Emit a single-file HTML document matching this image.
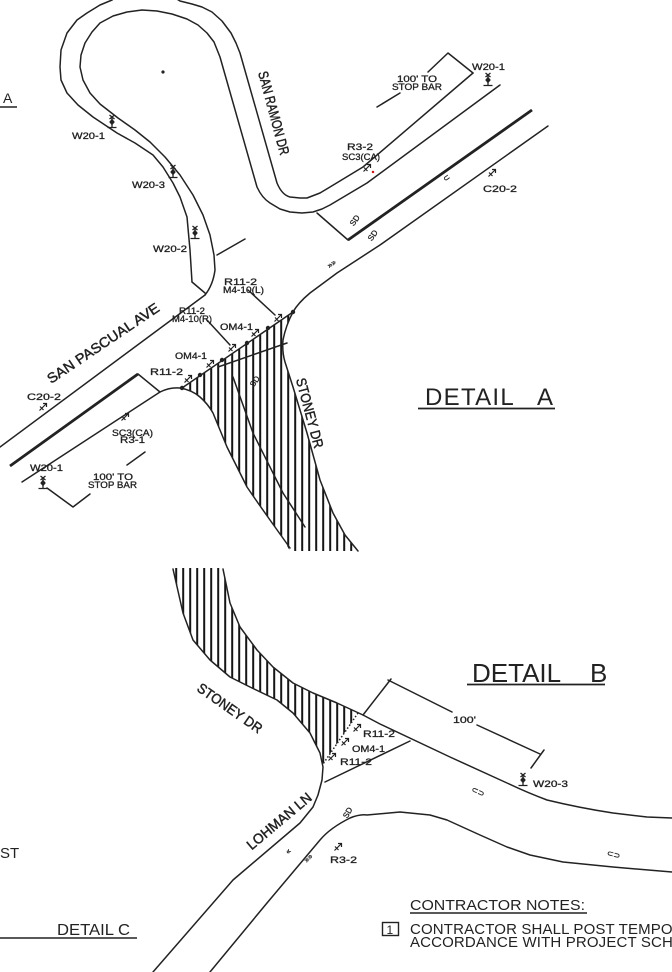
<!DOCTYPE html>
<html>
<head>
<meta charset="utf-8">
<style>
html,body{margin:0;padding:0;background:#fff;}
svg{display:block;}
.l{fill:none;stroke:#222;stroke-width:1.5;stroke-linejoin:round;stroke-linecap:round;}
.t{font-family:"Liberation Sans",sans-serif;fill:#222;}
.s{font-size:9.5px;stroke:#222;stroke-width:0.3;}
.n{font-size:14px;stroke:#222;stroke-width:0.45;}
</style>
</head>
<body>
<svg width="672" height="972" viewBox="0 0 672 972" xmlns="http://www.w3.org/2000/svg">
<defs>
<pattern id="h" width="7" height="10" patternUnits="userSpaceOnUse">
<line x1="1.2" y1="0" x2="1.2" y2="10" stroke="#151515" stroke-width="2"/>
</pattern>
<g id="ws">
<path d="M-2.5,-7 L2.5,-3 M2.5,-7 L-2.5,-3 M0,-5 L0,5 M-4.5,5.5 L4.5,5.5" stroke="#222" stroke-width="1.3" fill="none"/>
<path d="M0,-3.4 L2.8,0 L0,3.4 L-2.8,0Z" fill="#222"/>
</g>
<g id="rs">
<path d="M-3.5,3.5 L3,-3 M0,-3.5 L3.5,-3.5 L3.5,0 M-3,-0.5 L0.5,3" stroke="#222" stroke-width="1.2" fill="none"/>
</g>
</defs>
<rect width="672" height="972" fill="#fff"/>

<!-- ============ DETAIL A ============ -->
<path d="M182,388 L293,312 Q286,325 283,340 Q282,352 285,362 L293,387 L300,410 L307,433 L320,480 L333,513 L345,535 L358,551 L290,551 L280,534 L270,520 L258,503 L247,487 L237,467 L227,447 L220,430 L213,413 Q208,404 200,397 Q192,390 182,388 Z" fill="url(#h)"/>

<path class="l" d="M192,282 L190,250 L187,217 L180,197 L173,183 L163,167 L153,155 L135,143 L117,133 L93,117 L78,105 L67,93 L61,80 L60,67 L61,50 L67,33 L77,20 L87,13 L100,5 L112,0 L118,-4 M172,-4 L180,1 L192,4 L202,7 L212,12 L222,21 L231,33 L236,43 L240,53 L277,183 Q282,195 290,197 L300,198 L307,198 L320,193 L330,187 L363,167 L473,73"/>
<path class="l" d="M205,295 Q213,285 215,270 L214,255 L210,235 L203,215 L193,195 L180,175 L165,157 L150,142 L135,130 L118,118 L100,104 L90,93 L83,80 L80,67 L81,55 L85,43 L92,32 L100,23 L113,16 L127,12 L142,10 L157,11 L172,14 L187,19 L198,25 L207,33 L214,42 L220,57 L257,187 Q262,198 270,203 L280,209 L290,212 L302,213 L313,212 L322,209 L330,205 L367,183 L500,85"/>
<path class="l" d="M192,282 L205,293"/>
<path class="l" d="M217,255 L245,239"/>
<circle cx="163" cy="72" r="1.6" fill="#222"/>

<path class="l" d="M0,447 L205,295"/>
<path d="M10,466 L138,374" stroke="#222" stroke-width="2.8" fill="none"/>
<path class="l" d="M138,374 L160,392"/>
<path class="l" d="M22,482 L160,392 Q170,387 180,388 Q192,390 200,397 Q208,404 213,413 L220,430 L227,447 L237,467 L247,487 L258,503 L270,520 L280,534 L290,548"/>

<path class="l" d="M548,126 L380,245 L337,273 Q318,287 310,293 Q298,303 293,312 Q286,325 283,340 Q282,352 285,362 L293,387 L300,410 L307,433 L320,480 L333,513 L345,535 L358,551"/>
<path class="l" d="M317,213 L348,240"/>
<path d="M348,240 L532,110" stroke="#222" stroke-width="2.8" fill="none"/>

<path class="l" d="M182,388 L293,312" stroke-width="1.1"/>
<g fill="#222">
<circle cx="182" cy="388" r="2.2"/><circle cx="200" cy="375" r="2.2"/><circle cx="222" cy="360" r="2.2"/>
<circle cx="247" cy="343" r="2.2"/><circle cx="268" cy="328" r="2.2"/><circle cx="293" cy="312" r="2.2"/>
</g>
<use href="#rs" x="188" y="379"/><use href="#rs" x="210" y="364"/><use href="#rs" x="232" y="348"/>
<use href="#rs" x="255" y="333"/><use href="#rs" x="278" y="318"/>
<path class="l" d="M218,367 L287,343" stroke-width="1.1"/>
<path class="l" d="M233,377 L253,433 L283,493 L305,527" stroke-width="1.2"/>

<path class="l" d="M248,290 L275,315"/>
<path class="l" d="M207,320 L230,345"/>

<path class="l" d="M377,107 L400,93 M428,72 L448,53 L473,73"/>
<path class="l" d="M47,488 L73,507 L90,494 M127,465 L145,452"/>

<use href="#ws" x="112" y="122"/><use href="#ws" x="173" y="172"/><use href="#ws" x="195" y="233"/>
<use href="#ws" x="488" y="80"/><use href="#ws" x="43" y="483"/>
<use href="#rs" x="367" y="168"/><use href="#rs" x="492" y="173"/><use href="#rs" x="43" y="407"/><use href="#rs" x="125" y="417"/>
<circle cx="373" cy="172" r="1.2" fill="#e00"/>

<g class="t" font-size="8" stroke="#222" stroke-width="0.3">
<text transform="translate(357,222) rotate(-55)" text-anchor="middle">SD</text>
<text transform="translate(375,237) rotate(-55)" text-anchor="middle">SD</text>
<text transform="translate(448,180) rotate(-35)" text-anchor="middle">⊂</text>
<text transform="translate(333,266) rotate(-35)" text-anchor="middle">»»</text>
<text transform="translate(257,383) rotate(-55)" text-anchor="middle">SD</text>
</g>

<g class="t s">
<text x="472" y="70" textLength="33" lengthAdjust="spacingAndGlyphs">W20-1</text>
<text x="397" y="82" textLength="40" lengthAdjust="spacingAndGlyphs">100'  TO</text>
<text x="392" y="90" textLength="50" lengthAdjust="spacingAndGlyphs">STOP  BAR</text>
<text x="347" y="150" textLength="26" lengthAdjust="spacingAndGlyphs">R3-2</text>
<text x="342" y="160" textLength="38" lengthAdjust="spacingAndGlyphs">SC3(CA)</text>
<text x="483" y="192" textLength="34" lengthAdjust="spacingAndGlyphs">C20-2</text>
<text x="72" y="139" textLength="33" lengthAdjust="spacingAndGlyphs">W20-1</text>
<text x="132" y="188" textLength="33" lengthAdjust="spacingAndGlyphs">W20-3</text>
<text x="153" y="252" textLength="34" lengthAdjust="spacingAndGlyphs">W20-2</text>
<text x="224" y="285" textLength="33" lengthAdjust="spacingAndGlyphs">R11-2</text>
<text x="223" y="293" textLength="41" lengthAdjust="spacingAndGlyphs">M4-10(L)</text>
<text x="179" y="314" textLength="26" lengthAdjust="spacingAndGlyphs">R11-2</text>
<text x="172" y="322" textLength="40" lengthAdjust="spacingAndGlyphs">M4-10(R)</text>
<text x="220" y="330" textLength="33" lengthAdjust="spacingAndGlyphs">OM4-1</text>
<text x="175" y="359" textLength="32" lengthAdjust="spacingAndGlyphs">OM4-1</text>
<text x="150" y="375" textLength="33" lengthAdjust="spacingAndGlyphs">R11-2</text>
<text x="27" y="400" textLength="34" lengthAdjust="spacingAndGlyphs">C20-2</text>
<text x="112" y="436" textLength="41" lengthAdjust="spacingAndGlyphs">SC3(CA)</text>
<text x="120" y="443" textLength="25" lengthAdjust="spacingAndGlyphs">R3-1</text>
<text x="30" y="471" textLength="33" lengthAdjust="spacingAndGlyphs">W20-1</text>
<text x="93" y="480" textLength="40" lengthAdjust="spacingAndGlyphs">100'  TO</text>
<text x="88" y="488" textLength="49" lengthAdjust="spacingAndGlyphs">STOP  BAR</text>
</g>

<g class="t n">
<text transform="translate(274,113) rotate(75)" text-anchor="middle" dy="5" textLength="86" lengthAdjust="spacingAndGlyphs">SAN RAMON DR</text>
<text transform="translate(103,343) rotate(-34)" text-anchor="middle" dy="5" textLength="132" lengthAdjust="spacingAndGlyphs">SAN PASCUAL AVE</text>
<text transform="translate(310,413) rotate(75)" text-anchor="middle" dy="5" textLength="72" lengthAdjust="spacingAndGlyphs">STONEY DR</text>
</g>

<text class="t" x="425" y="405" font-size="24" letter-spacing="1.3">DETAIL</text>
<text class="t" x="537" y="405" font-size="24">A</text>
<line x1="418" y1="408.5" x2="555" y2="408.5" stroke="#222" stroke-width="1.7"/>
<text class="t" x="3" y="103" font-size="14">A</text>
<line x1="0" y1="107" x2="17" y2="107" stroke="#222" stroke-width="1.4"/>

<!-- ============ DETAIL B ============ -->
<path d="M173,568 L223,568 L230,603 L240,627 L257,650 L273,667 L293,683 L313,693 L337,703 L358,713 L323,764 L320,753 L310,733 L293,713 L277,700 L250,687 L230,677 L210,660 L193,640 L183,613 Z" fill="url(#h)"/>
<path class="l" d="M223,569 L230,603 L240,627 L257,650 L273,667 L293,683 L313,693 L337,703 L363,715 L380,724 L450,757 L507,783 Q528,793 547,800 Q580,808 613,813 L647,817 L672,818"/>
<path class="l" d="M173,569 L183,613 L193,640 L210,660 L230,677 L250,687 L277,700 L293,713 L310,733 L320,753 L323,767 L322,780 L318,795 L313,807 L300,823 L233,880 L153,972"/>
<path class="l" d="M210,972 L267,903 L320,840 Q330,828 350,818 Q360,814 367,815 L400,812 L430,815 L447,820 L480,835 L507,847 L530,855 L563,862 L613,867 L672,872"/>
<path class="l" d="M325,782 L410,741"/>
<path d="M358,713 L323,764" stroke="#222" stroke-width="1.5" stroke-dasharray="1.5,2" fill="none"/>
<path class="l" d="M363,715 L391,679 M388,680 L452,712 M477,725 L540,754 M544,750 L531,768"/>
<use href="#rs" x="357" y="728"/><use href="#rs" x="345" y="742"/><use href="#rs" x="332" y="757"/>
<use href="#ws" x="523" y="780"/>
<use href="#rs" x="338" y="847"/>
<g class="t" font-size="8" stroke="#222" stroke-width="0.3">
<text transform="translate(477,794) rotate(25)" text-anchor="middle">⊂⊃</text>
<text transform="translate(613,857) rotate(15)" text-anchor="middle">⊂⊃</text>
<text transform="translate(350,814) rotate(-60)" text-anchor="middle">SD</text>
<text transform="translate(290,853) rotate(-45)" text-anchor="middle">«</text>
<text transform="translate(310,860) rotate(-45)" text-anchor="middle">»»</text>
</g>
<g class="t s">
<text x="453" y="723" textLength="23" lengthAdjust="spacingAndGlyphs">100'</text>
<text x="533" y="787" textLength="35" lengthAdjust="spacingAndGlyphs">W20-3</text>
<text x="363" y="737" textLength="32" lengthAdjust="spacingAndGlyphs">R11-2</text>
<text x="352" y="752" textLength="33" lengthAdjust="spacingAndGlyphs">OM4-1</text>
<text x="340" y="765" textLength="32" lengthAdjust="spacingAndGlyphs">R11-2</text>
<text x="330" y="863" textLength="27" lengthAdjust="spacingAndGlyphs">R3-2</text>
</g>
<g class="t n">
<text transform="translate(230,708) rotate(35)" text-anchor="middle" dy="5" textLength="76" lengthAdjust="spacingAndGlyphs">STONEY DR</text>
<text transform="translate(279,821) rotate(-40)" text-anchor="middle" dy="5" textLength="80" lengthAdjust="spacingAndGlyphs">LOHMAN LN</text>
</g>
<text class="t" x="472" y="682" font-size="26">DETAIL</text>
<text class="t" x="590" y="682" font-size="26">B</text>
<line x1="467" y1="684.5" x2="605" y2="684.5" stroke="#222" stroke-width="1.7"/>

<text class="t" x="0" y="858" font-size="15">ST</text>
<text class="t" x="57" y="935" font-size="16" textLength="73" lengthAdjust="spacingAndGlyphs">DETAIL  C</text>
<line x1="0" y1="938" x2="137" y2="938" stroke="#222" stroke-width="1.5"/>

<text class="t" x="410" y="910" font-size="15" textLength="175" lengthAdjust="spacingAndGlyphs">CONTRACTOR NOTES:</text>
<line x1="410" y1="913" x2="587" y2="913" stroke="#222" stroke-width="1.4"/>
<rect x="382.5" y="922.5" width="16" height="13" fill="none" stroke="#222" stroke-width="1.4"/>
<text class="t" x="386.5" y="934" font-size="12">1</text>
<text class="t" x="410" y="934" font-size="15" letter-spacing="0.15">CONTRACTOR SHALL POST TEMPORARY</text>
<text class="t" x="410" y="947" font-size="15" letter-spacing="0.15">ACCORDANCE WITH PROJECT SCHEDULE</text>
</svg>
</body>
</html>
